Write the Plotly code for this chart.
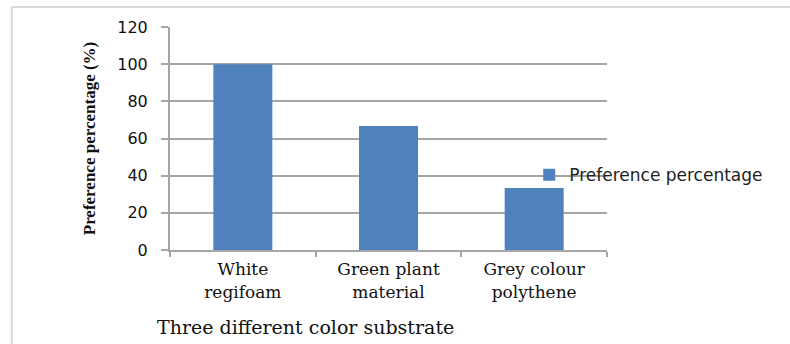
import plotly.graph_objects as go

categories = ["White<br>regifoam", "Green plant<br>material", "Grey colour<br>polythene"]
preference = [100, 66.7, 33.3]
y_ticks = [0, 20, 40, 60, 80, 100, 120]

AXIS_GREY = "#a6a6a6"
BAR_BLUE = "#4f81bd"

fig = go.Figure()
fig.add_trace(go.Bar(
    x=categories,
    y=preference,
    name="Preference percentage",
    marker=dict(color=BAR_BLUE, line=dict(width=0)),
    width=0.405,
))

fig.update_layout(
    width=790,
    height=344,
    margin=dict(l=170, r=183, t=27, b=94),
    paper_bgcolor="white",
    plot_bgcolor="white",
    showlegend=True,
    legend=dict(
        x=0.822, y=0.335, xanchor="left", yanchor="middle",
        font=dict(family="DejaVu Sans", size=17, color="#222222"),
        bgcolor="rgba(0,0,0,0)",
        itemwidth=30,
    ),
    xaxis=dict(
        showline=True, linecolor=AXIS_GREY, linewidth=2,
        ticks="outside", tickson="boundaries", ticklen=5,
        tickcolor=AXIS_GREY, tickwidth=2,
        ticklabelstandoff=3,
        tickfont=dict(family="DejaVu Serif", size=17, color="#111111"),
        showgrid=False,
    ),
    yaxis=dict(
        range=[0, 120], tickvals=y_ticks,
        showline=True, linecolor=AXIS_GREY, linewidth=2,
        ticks="outside", ticklen=7, tickcolor=AXIS_GREY, tickwidth=2,
        ticklabelstandoff=10,
        gridcolor=AXIS_GREY, gridwidth=2,
        zeroline=False,
        tickfont=dict(family="DejaVu Sans", size=16, color="#111111"),
        title=dict(
            text="<b>Preference percentage (%)</b>",
            font=dict(family="Liberation Serif", size=17, color="#111111"),
            standoff=17,
        ),
    ),
    bargap=0.595,
)

# x-axis caption set below the category labels
fig.add_annotation(
    text="Three different color substrate",
    xref="paper", yref="paper", x=-0.035, y=-0.345,
    xanchor="left", yanchor="middle", showarrow=False,
    font=dict(family="DejaVu Serif", size=19, color="#111111"),
)

# chart-area frame (left and top edges)
frame = dict(color="#d9d9d9", width=2)
fig.add_shape(type="line", xref="paper", yref="paper",
              x0=-0.362, x1=1.5, y0=1.09, y1=1.09, line=frame)
fig.add_shape(type="line", xref="paper", yref="paper",
              x0=-0.362, x1=-0.362, y0=1.09, y1=-0.5, line=frame)

fig.write_html("out.html")
